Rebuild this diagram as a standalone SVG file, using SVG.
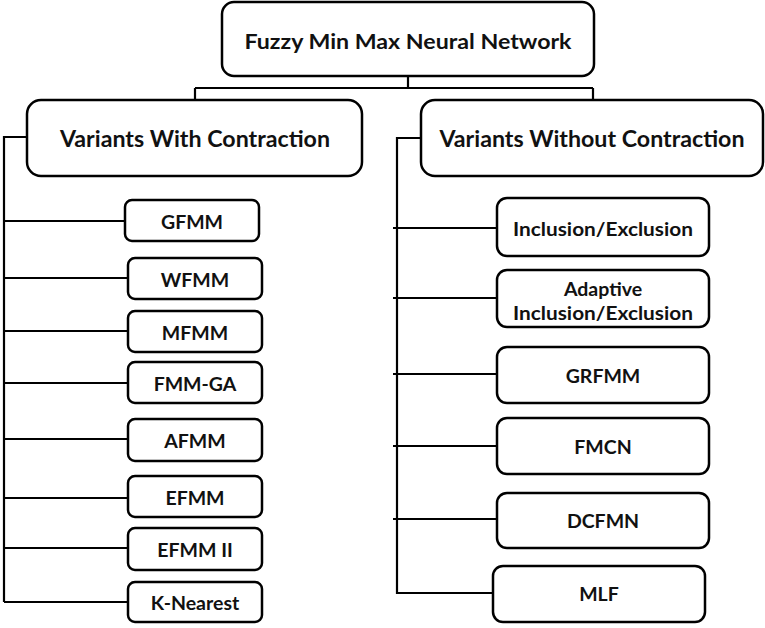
<svg xmlns="http://www.w3.org/2000/svg" width="765" height="628" viewBox="0 0 765 628">
<style>
.box{fill:#fff;stroke:#000;stroke-width:2.5}
.ln{fill:none;stroke:#000;stroke-width:2.2}
text{font-family:Lato,"Liberation Sans",sans-serif;font-weight:bold;fill:#111;text-anchor:middle;dominant-baseline:central}
.t1{font-size:21px}
.t2{font-size:23px}
.t3{font-size:19.5px}
</style>
<rect width="765" height="628" fill="#fff"/>
<g id="connectors">
<path class="ln" d="M408 76V88M195 88H593M195 88V100M593 88V100"/>
<path class="ln" d="M27 137H4V602M4 221H125M4 278H128M4 331H128M4 383H128M4 439H128M4 498H128M4 548H128M4 602H128"/>
<path class="ln" d="M421 138H397V593H493M393 228H497M393 298H497M393 374H497M393 446H497M393 519H497"/>
</g>
<g id="root"><rect class="box" x="222" y="2" width="372" height="74" rx="12"/><text class="t1" x="408" y="40" textLength="327" lengthAdjust="spacingAndGlyphs">Fuzzy Min Max Neural Network</text></g>
<g id="with"><rect class="box" x="27" y="100" width="335" height="76" rx="14"/><text class="t2" x="195" y="138" textLength="270" lengthAdjust="spacingAndGlyphs">Variants With Contraction</text></g>
<g id="without"><rect class="box" x="421" y="100" width="342" height="76" rx="14"/><text class="t2" x="592" y="138" textLength="305" lengthAdjust="spacingAndGlyphs">Variants Without Contraction</text></g>
<g id="gfmm"><rect class="box" x="125" y="200" width="134" height="41" rx="7"/><text class="t3" x="192" y="221">GFMM</text></g>
<g id="wfmm"><rect class="box" x="128" y="258" width="134" height="41" rx="7"/><text class="t3" x="195" y="279">WFMM</text></g>
<g id="mfmm"><rect class="box" x="128" y="311" width="134" height="41" rx="7"/><text class="t3" x="195" y="332">MFMM</text></g>
<g id="fmmga"><rect class="box" x="128" y="362" width="134" height="41" rx="7"/><text class="t3" x="195" y="383">FMM-GA</text></g>
<g id="afmm"><rect class="box" x="128" y="419" width="134" height="42" rx="7"/><text class="t3" x="195" y="440">AFMM</text></g>
<g id="efmm"><rect class="box" x="128" y="476" width="134" height="41" rx="7"/><text class="t3" x="195" y="497">EFMM</text></g>
<g id="efmm2"><rect class="box" x="128" y="528" width="134" height="42" rx="7"/><text class="t3" x="195" y="549">EFMM II</text></g>
<g id="knearest"><rect class="box" x="128" y="582" width="134" height="40" rx="7"/><text class="t3" x="195" y="602">K-Nearest</text></g>
<g id="incl"><rect class="box" x="497" y="198" width="212" height="58" rx="10"/><text class="t3" x="603" y="228" textLength="180" lengthAdjust="spacingAndGlyphs">Inclusion/Exclusion</text></g>
<g id="adapt"><rect class="box" x="497" y="270" width="212" height="57" rx="10"/><text class="t3" x="603" y="288">Adaptive</text><text class="t3" x="603" y="312" textLength="180" lengthAdjust="spacingAndGlyphs">Inclusion/Exclusion</text></g>
<g id="grfmm"><rect class="box" x="497" y="347" width="212" height="56" rx="10"/><text class="t3" x="603" y="375">GRFMM</text></g>
<g id="fmcn"><rect class="box" x="497" y="418" width="212" height="56" rx="10"/><text class="t3" x="603" y="446">FMCN</text></g>
<g id="dcfmn"><rect class="box" x="497" y="493" width="212" height="55" rx="10"/><text class="t3" x="603" y="520">DCFMN</text></g>
<g id="mlf"><rect class="box" x="493" y="566" width="212" height="56" rx="10"/><text class="t3" x="599" y="593">MLF</text></g>
</svg>
